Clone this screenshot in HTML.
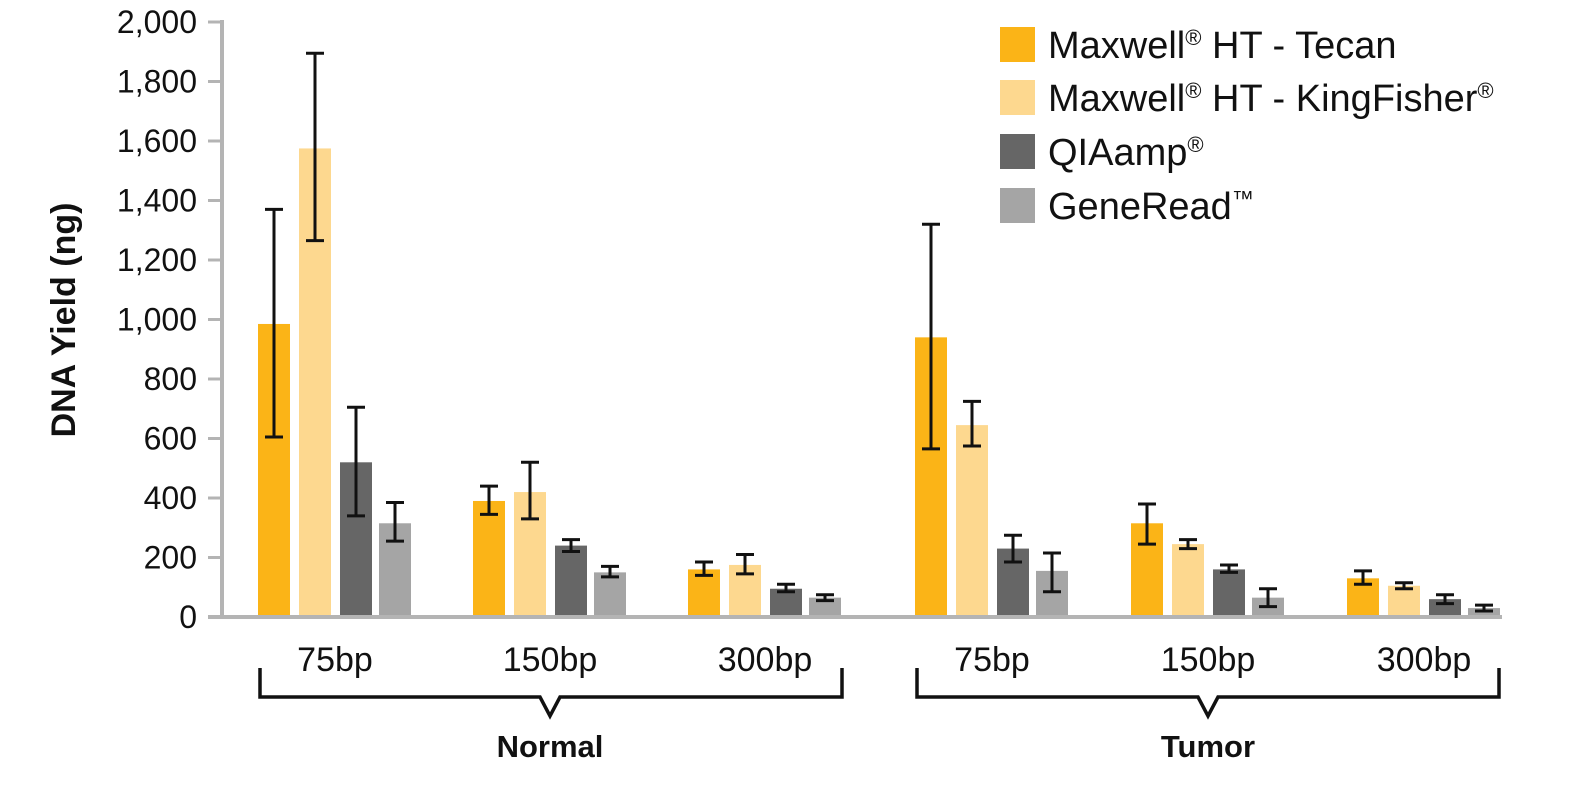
<!DOCTYPE html>
<html><head><meta charset="utf-8"><style>
body{margin:0;background:#fff}
svg text{font-family:"Liberation Sans Narrow","Liberation Sans",sans-serif}
</style></head><body>
<svg width="1583" height="795" viewBox="0 0 1583 795" xmlns="http://www.w3.org/2000/svg">
<g id="bars"></g>
<g stroke="#b4b4b4" stroke-width="4">
<line x1="222" y1="20" x2="222" y2="617"/>
<line x1="208" y1="617" x2="1502" y2="617"/>
</g>
<g stroke="#b4b4b4" stroke-width="3" id="ticks"></g>
<g font-size="32" text-anchor="end" fill="#111" id="ylab"></g>
<text transform="translate(75,320) rotate(-90)" text-anchor="middle" font-size="34" font-weight="bold" fill="#111" style="font-family:'Liberation Sans',sans-serif">DNA Yield (ng)</text>
<g font-size="34" text-anchor="middle" fill="#111">
<text x="335" y="671">75bp</text><text x="550" y="671">150bp</text><text x="765" y="671">300bp</text>
<text x="992" y="671">75bp</text><text x="1208" y="671">150bp</text><text x="1424" y="671">300bp</text>
<text x="550" y="757" font-weight="bold" font-size="31" style="font-family:'Liberation Sans',sans-serif">Normal</text>
<text x="1208" y="757" font-weight="bold" font-size="31" style="font-family:'Liberation Sans',sans-serif">Tumor</text>
</g>
<g fill="none" stroke="#111" stroke-width="3.5">
<polyline points="260,668 260,697 540,697 550,716 560,697 842,697 842,668"/>
<polyline points="917,668 917,697 1198,697 1208,716 1218,697 1499,697 1499,668"/>
</g>
<g font-size="38" fill="#111">
<rect x="1000" y="27" width="35" height="35" fill="#FBB417"/>
<text x="1048" y="58">Maxwell<tspan font-size="22" dy="-13">®</tspan><tspan dy="13"> HT - Tecan</tspan></text>
<rect x="1000" y="80" width="35" height="35" fill="#FDD88F"/>
<text x="1048" y="111">Maxwell<tspan font-size="22" dy="-13">®</tspan><tspan dy="13"> HT - KingFisher</tspan><tspan font-size="22" dy="-13">®</tspan></text>
<rect x="1000" y="134" width="35" height="35" fill="#666"/>
<text x="1048" y="165">QIAamp<tspan font-size="22" dy="-13">®</tspan></text>
<rect x="1000" y="188" width="35" height="35" fill="#A5A5A5"/>
<text x="1048" y="219">GeneRead<tspan font-size="22" dy="-13">™</tspan></text>
</g>
</svg>
<script>
var ns="http://www.w3.org/2000/svg";
function Y(v){return 617-v*0.2975;}
function el(p,t,a){var e=document.createElementNS(ns,t);for(var k in a)e.setAttribute(k,a[k]);p.appendChild(e);return e;}
var tk=document.getElementById('ticks'),yl=document.getElementById('ylab');
for(var v=0;v<=2000;v+=200){var y=Y(v);if(v>0)el(tk,'line',{x1:208,x2:222,y1:y,y2:y});var t=el(yl,'text',{x:197,y:y+11});t.textContent=v.toLocaleString('en-US');}
var cols=["#FBB417","#FDD88F","#666666","#A5A5A5"];
var centers=[335,550,765,992,1208,1424];
var offs=[-77,-36,5,44];
var data=[
[[985,605,1370],[1575,1265,1895],[520,340,705],[315,255,385]],
[[390,345,440],[420,330,520],[240,220,260],[150,135,170]],
[[160,140,185],[175,145,210],[95,85,110],[65,55,75]],
[[940,565,1320],[645,575,725],[230,185,275],[155,85,215]],
[[315,245,380],[245,230,260],[160,150,175],[65,35,95]],
[[130,110,155],[105,95,115],[60,45,75],[30,20,40]]];
var g=document.getElementById('bars');
data.forEach(function(grp,i){grp.forEach(function(d,j){var x=centers[i]+offs[j];
el(g,'rect',{x:x,y:Y(d[0]),width:32,height:Y(0)-Y(d[0]),fill:cols[j]});});});
data.forEach(function(grp,i){grp.forEach(function(d,j){var cx=centers[i]+offs[j]+16;
el(g,'line',{x1:cx,x2:cx,y1:Y(d[1]),y2:Y(d[2]),stroke:'#111','stroke-width':3});
el(g,'line',{x1:cx-9,x2:cx+9,y1:Y(d[1]),y2:Y(d[1]),stroke:'#111','stroke-width':3});
el(g,'line',{x1:cx-9,x2:cx+9,y1:Y(d[2]),y2:Y(d[2]),stroke:'#111','stroke-width':3});});});
</script>
</body></html>
